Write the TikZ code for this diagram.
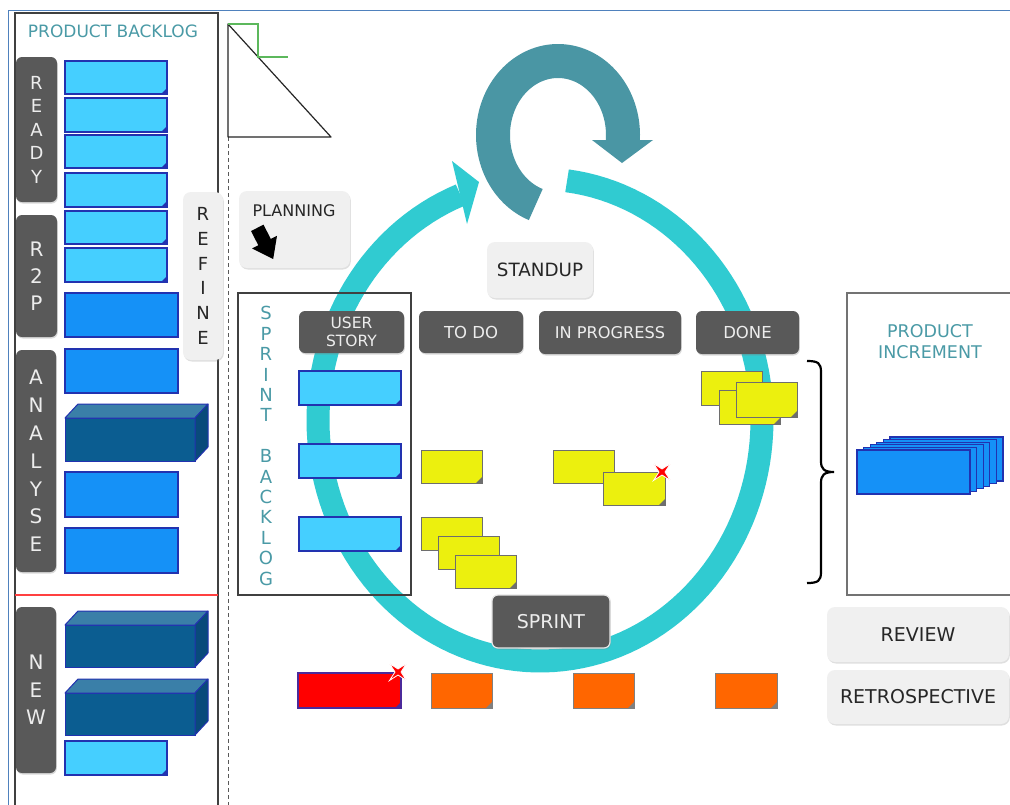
\documentclass[tikz,border=0pt]{standalone}
\usepackage{fontspec}
\setmainfont{DejaVu Sans}
\usetikzlibrary{shadows,calc}
\definecolor{tabgray}{HTML}{595959}
\definecolor{btngray}{HTML}{F0F0F0}
\definecolor{ringc}{HTML}{30CBD1}
\definecolor{darkarr}{HTML}{4A96A4}
\definecolor{tealtxt}{HTML}{4A9AA6}
\definecolor{lblue}{HTML}{45CFFF}
\definecolor{lbord}{HTML}{2232B0}
\definecolor{mblue}{HTML}{1591F7}
\definecolor{dfront}{HTML}{0B5D91}
\definecolor{dtop}{HTML}{3A7FA8}
\definecolor{dside}{HTML}{094A7A}
\definecolor{yel}{HTML}{ECF00E}
\definecolor{yelbord}{HTML}{6E6E6E}
\definecolor{orng}{HTML}{FF6600}
\definecolor{rbord}{HTML}{4B2A9B}
\definecolor{framebl}{HTML}{4F81BD}
\definecolor{stepgreen}{HTML}{5CB85C}
\definecolor{tabtxt}{HTML}{EDEDED}
\definecolor{btntxt}{HTML}{262626}
\newcommand\mycuboid[5]{%
 \node[dfr, boxc={#2}{#3}{#4}{#5}] (#1) {};
 \filldraw[fill=dtop, draw=lbord, line width=1pt, line join=round] (#1.north west) -- ($(#1.north west)+(13pt,14pt)$) -- ($(#1.north east)+(13pt,14pt)$) -- (#1.north east) -- cycle;
 \filldraw[fill=dside, draw=lbord, line width=1pt, line join=round] (#1.north east) -- ($(#1.north east)+(13pt,14pt)$) -- ($(#1.south east)+(13pt,14pt)$) -- (#1.south east) -- cycle;
}
\begin{document}
\begin{tikzpicture}[x=1pt,y=-1pt,
 boxc/.style n args={4}{at={({((#1)+(#3))/2},{((#2)+(#4))/2})}, minimum width={(#3)-(#1)}, minimum height={(#4)-(#2)}},
 base/.style={inner sep=0pt, outer sep=0pt},
 lnote/.style={base, fill=lblue, draw=lbord, line width=1.2pt, path picture={\fill[lbord] (path picture bounding box.south east) -- ++(-6pt,0pt) -- ++(6pt,6pt) -- cycle;}},
 ynote/.style={base, fill=yel, draw=yelbord, line width=1pt, path picture={\fill[yelbord] (path picture bounding box.south east) -- ++(-6pt,0pt) -- ++(6pt,6pt) -- cycle;}},
 onote/.style={base, fill=orng, draw=gray, line width=1pt, path picture={\fill[gray] (path picture bounding box.south east) -- ++(-6pt,0pt) -- ++(6pt,6pt) -- cycle;}},
 rnote/.style={base, fill=red, draw=rbord, line width=1.2pt, path picture={\fill[rbord] (path picture bounding box.south east) -- ++(-6pt,0pt) -- ++(6pt,6pt) -- cycle;}},
 mnote/.style={base, fill=mblue, draw=lbord, line width=1.2pt},
 dfr/.style={base, fill=dfront, draw=lbord, line width=1pt},
 tab/.style={base, fill=tabgray, rounded corners=6pt, text=tabtxt, align=center, drop shadow={opacity=0.3, shadow xshift=0.8pt, shadow yshift=-1.5pt}},
 btn/.style={base, fill=btngray, rounded corners=8pt, text=btntxt, align=center, drop shadow={opacity=0.25, shadow xshift=0.8pt, shadow yshift=-1.5pt}},
 vlet/.style 2 args={font=\fontsize{#1}{#2}\selectfont},
 star4/.style={fill=red, draw=white, line width=0.8pt}
]
\useasboundingbox (0,0) rectangle (1010,804);
\fill[white] (0,0) rectangle (1010,804);
% frame
\draw[framebl, line width=1pt] (8,830) -- (8,10) -- (1030,10);
% big ring
\draw[ringc, line width=23pt] plot[domain=-83:249, samples=140] ({540+222*cos(\x)},{420+241*sin(\x)});
\fill[ringc] (452,161) -- (479,182) -- (467,224) -- cycle;
% dark loop arrow
\draw[darkarr, line width=34pt] plot[domain=110:365, samples=100] ({558+65*cos(\x)},{135+74*sin(\x)});
\fill[darkarr] (592,140) -- (653,140) -- (622,163) -- cycle;

% product backlog
\node[base, draw=black!75, line width=1.5pt, boxc={15}{13}{218}{840}] (pb) {};
\node[font=\fontsize{17}{20}\selectfont, text=tealtxt] (pbt) at (113,31) {PRODUCT BACKLOG};
\node[tab, boxc={16}{57}{57}{202}, vlet={18}{23.5}] (ready) {R\\E\\A\\D\\Y};
\node[tab, boxc={16}{215}{57}{337}, vlet={20}{27}] (r2p) {R\\2\\P};
\node[tab, boxc={16}{350}{56}{572}, vlet={20}{27.8}] (analyse) {A\\N\\A\\L\\Y\\S\\E};
\node[tab, boxc={16}{607}{56}{773}, vlet={20}{27.5}] (new) {N\\E\\W};
\node[lnote, boxc={65}{61}{167}{94}] (l1) {};
\node[lnote, boxc={65}{98}{167}{132}] (l2) {};
\node[lnote, boxc={65}{135}{167}{168}] (l3) {};
\node[lnote, boxc={65}{173}{167}{207}] (l4) {};
\node[lnote, boxc={65}{211}{167}{244}] (l5) {};
\node[lnote, boxc={65}{248}{167}{282}] (l6) {};
\node[mnote, boxc={65}{293}{178}{337}] (m1) {};
\node[mnote, boxc={65}{349}{178}{393}] (m2) {};
\mycuboid{c1}{65}{418}{195}{461}
\node[mnote, boxc={65}{472}{178}{517}] (m3) {};
\node[mnote, boxc={65}{528}{178}{573}] (m4) {};
\draw[red!75, line width=1.3pt] (pb.west |- 0,595) -- (pb.east |- 0,595);
\mycuboid{c2}{65}{625}{195}{667}
\mycuboid{c3}{65}{693}{195}{735}
\node[lnote, boxc={65}{741}{167}{775}] (l7) {};
\node[btn, boxc={183}{192}{223}{360}, vlet={18}{24.8}] (refine) {R\\E\\F\\I\\N\\E};

% dashed divider and triangle
\draw[black!65, line width=1pt, dash pattern=on 4pt off 3pt] (228,137) -- (228,830);
\draw[black!85, line width=1.2pt, line join=round] (228,24) -- (228,137) -- (331,137) -- cycle;
\draw[stepgreen, line width=1.5pt] (228,24) -- (258,24) -- (258,57) -- (288,57);

% planning
\node[btn, boxc={239}{191}{350}{268}] (plan) {};
\node[font=\fontsize{16}{18}\selectfont, text=btntxt] (plant) at (294,211) {PLANNING};
\begin{scope}[shift={(265,243)}, rotate=-63]
\fill[black] (-17,-7) -- (-1,-7) -- (-1,-14) -- (18,0) -- (-1,14) -- (-1,7) -- (-17,7) -- cycle;
\end{scope}

% standup
\node[btn, boxc={487}{242}{593}{298}, font=\fontsize{18.3}{20}\selectfont] (standup) {STANDUP};

% sprint backlog
\node[base, draw=black!75, line width=1.3pt, boxc={238}{293}{411}{595}] (sb) {};
\node[align=center, text=tealtxt, font=\fontsize{18}{20.4}\selectfont, inner sep=0pt] (sbt) at (266,446) {S\\P\\R\\I\\N\\T\\[20.4pt]B\\A\\C\\K\\L\\O\\G};
\node[tab, boxc={299}{311}{404}{353}, font=\fontsize{15.5}{18}\selectfont] (us) {USER\\STORY};
\node[tab, boxc={419}{311}{523}{353}, font=\fontsize{16.5}{18}\selectfont] (todo) {TO DO};
\node[tab, boxc={539}{311}{681}{354}, font=\fontsize{16.2}{18}\selectfont] (inprog) {IN PROGRESS};
\node[tab, boxc={696}{311}{799}{354}, font=\fontsize{16.5}{18}\selectfont] (done) {DONE};
\node[lnote, boxc={299}{371}{401}{405}] (s1) {};
\node[lnote, boxc={299}{444}{401}{478}] (s2) {};
\node[lnote, boxc={299}{517}{401}{551}] (s3) {};
\node[ynote, boxc={421}{450}{482}{483}] (y1) {};
\node[ynote, boxc={421}{517}{482}{550}] (y2) {};
\node[ynote, boxc={438}{536}{499}{569}] (y3) {};
\node[ynote, boxc={455}{555}{516}{588}] (y4) {};
\node[ynote, boxc={553}{450}{614}{483}] (y5) {};
\node[ynote, boxc={603}{472}{665}{505}] (y6) {};
\node[ynote, boxc={701}{371}{762}{405}] (y7) {};
\node[ynote, boxc={719}{390}{780}{424}] (y8) {};
\node[ynote, boxc={736}{382}{797}{417}] (y9) {};
\begin{scope}[shift={(662,472)}]
\filldraw[star4] (45:12) -- (90:3) -- (135:12) -- (180:3) -- (225:12) -- (270:3) -- (315:12) -- (0:3) -- cycle;
\end{scope}

% brace
\draw[black, line width=2.2pt] (807,361) .. controls (818,361) and (821,363) .. (821,372) -- (821,461) .. controls (821,469) and (824,472) .. (834,472) .. controls (824,472) and (821,475) .. (821,483) -- (821,572) .. controls (821,581) and (818,583) .. (807,583);

% product increment
\node[base, draw=black!55, line width=1.5pt, boxc={847}{293}{1040}{595}] (pi) {};
\node[align=center, text=tealtxt, font=\fontsize{17.5}{21}\selectfont, inner sep=0pt] (pit) at (930,342) {PRODUCT\\INCREMENT};
\foreach \i in {5,...,0} {
 \node[mnote, boxc={857+6.6*\i}{450-2.6*\i}{970+6.6*\i}{494-2.6*\i}] (inc\i) {};
}

% sprint
\node[tab, draw=white!80!gray, line width=1.2pt, boxc={492}{595}{610}{648}, font=\fontsize{19}{21}\selectfont] (sprint) {SPRINT};

% bottom notes
\node[rnote, boxc={298}{673}{401}{708}] (r1) {};
\node[onote, boxc={431}{673}{492}{708}] (o1) {};
\node[onote, boxc={573}{673}{634}{708}] (o2) {};
\node[onote, boxc={715}{673}{777}{708}] (o3) {};
\begin{scope}[shift={(398,672)}]
\filldraw[star4] (45:12) -- (90:3) -- (135:12) -- (180:3) -- (225:12) -- (270:3) -- (315:12) -- (0:3) -- cycle;
\end{scope}

% review, retro
\node[btn, boxc={827}{607}{1009}{662}, font=\fontsize{19}{21}\selectfont] (review) {REVIEW};
\node[btn, boxc={827}{670}{1009}{724}, font=\fontsize{19}{21}\selectfont] (retro) {RETROSPECTIVE};
\end{tikzpicture}
\end{document}
